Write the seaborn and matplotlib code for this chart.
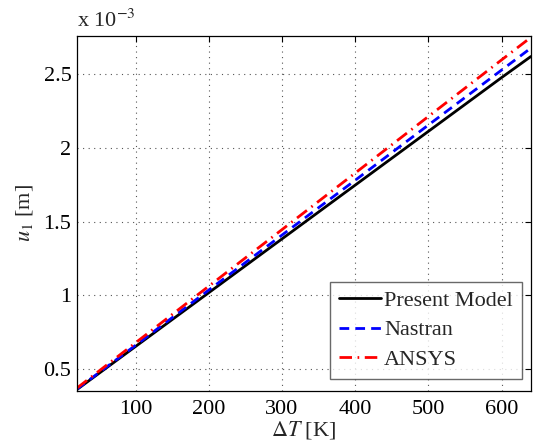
import matplotlib
matplotlib.use("Agg")
import matplotlib.pyplot as plt
import seaborn as sns
import pandas as pd

# Data
delta_T = [20, 100, 200, 300, 400, 500, 600, 640]
present_model = [0.360, 0.652, 1.017, 1.382, 1.747, 2.112, 2.477, 2.620]
nastran = [0.363, 0.660, 1.035, 1.408, 1.780, 2.155, 2.528, 2.677]
ansys = [0.370, 0.677, 1.061, 1.445, 1.829, 2.213, 2.597, 2.750]
series_names = ["Present Model", "Nastran", "ANSYS"]
x_ticks = [100, 200, 300, 400, 500, 600]
y_ticks = [0.5, 1.0, 1.5, 2.0, 2.5]
y_tick_labels = ["0.5", "1", "1.5", "2", "2.5"]

sns.set_style("white")
plt.rcParams["font.family"] = ["Liberation Serif", "DejaVu Serif"]
plt.rcParams["mathtext.fontset"] = "stix"

fig = plt.figure(figsize=(5.33, 4.43), dpi=100)
ax = fig.add_axes([0.1445, 0.1185, 0.8515, 0.8005])

styles = [
    dict(color="black", linestyle="-", linewidth=2.0),
    dict(color="#0000ff", linestyle=(0, (3.5, 2.2)), linewidth=2.0),
    dict(color="#ff0000", linestyle=(0, (4.5, 2.0, 0.6, 2.0)), linewidth=2.0),
]
for name, vals, st in zip(series_names, [present_model, nastran, ansys], styles):
    df = pd.DataFrame({"dT": delta_T, "u": vals})
    sns.lineplot(data=df, x="dT", y="u", ax=ax, label=name, **st)

ax.set_xlim(20, 640)
ax.set_ylim(0.353, 2.76)
ax.set_xticks(x_ticks)
ax.set_xticklabels([str(t) for t in x_ticks])
ax.set_yticks(y_ticks)
ax.set_yticklabels(y_tick_labels)
ax.tick_params(direction="in", length=4, width=0.8, labelsize=16,
               top=True, right=True, colors="black")
ax.tick_params(axis="y", pad=4)
ax.tick_params(axis="x", pad=7)
ax.grid(True, linestyle=(0, (1, 4)), color="#555555", linewidth=0.8)
for sp in ax.spines.values():
    sp.set_visible(True)
    sp.set_color("black")
    sp.set_linewidth(0.9)

ax.set_xlabel(r"$\Delta \mathit{T}$ [K]", fontsize=16, labelpad=0)
ax.set_ylabel(r"$\mathit{u}_{\mathit{1}}$ [m]", fontsize=16, labelpad=6)
ax.text(0.0, 1.012, r"x 10$^{-3}$", transform=ax.transAxes, fontsize=16,
        ha="left", va="bottom")

leg = ax.legend(loc="lower right", fontsize=16, frameon=True, fancybox=False,
                edgecolor="#444444", handlelength=1.9, handletextpad=0.15,
                borderpad=0.4, labelspacing=0.4, bbox_to_anchor=(0.98, 0.033),
                borderaxespad=0.0)
leg.get_frame().set_linewidth(1.0)

fig.savefig("out.png", dpi=100)
